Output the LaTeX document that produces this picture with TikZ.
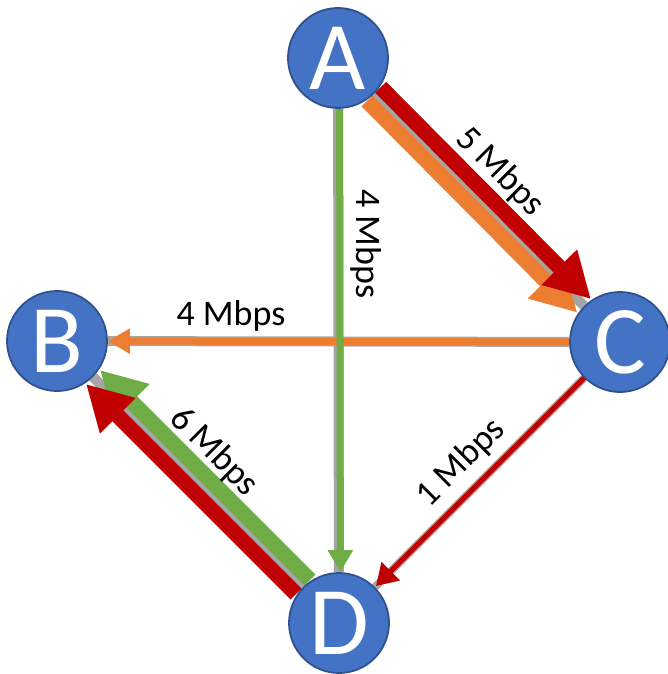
\documentclass[tikz,border=0pt]{standalone}
\usepackage{fontspec}
\setmainfont{Carlito}
\usetikzlibrary{arrows.meta}
\definecolor{nodeblue}{HTML}{4472C4}
\definecolor{nodeedge}{HTML}{2F528F}
\definecolor{linkgray}{HTML}{A5A5A5}
\definecolor{flowred}{HTML}{C00000}
\definecolor{floworange}{HTML}{ED7D31}
\definecolor{flowgreen}{HTML}{70AD47}
\pgfdeclarelayer{links}
\pgfsetlayers{links,main}

\begin{document}
\begin{tikzpicture}[x=1pt,y=-1pt,
  router/.style={circle, fill=nodeblue, draw=nodeedge, line width=1.8pt,
    minimum size=100pt, inner sep=0pt, text=white,
    font=\fontsize{97}{97}\selectfont},
  link/.style={draw=linkgray, line width=#1},
  thickflow/.style={draw=#1, line width=15.5pt,
    -{Triangle[width=47pt,length=45pt]}},
  thinflow/.style={draw=#1, line width=7pt,
    -{Triangle[width=24pt,length=22pt]}},
  rate/.style={font=\fontsize{36}{36}\selectfont, inner sep=0pt},
]
\useasboundingbox (0,0) rectangle (667,674);

% routers
\node[router] (A) at (338,58)  {A};
\node[router] (B) at (57,341)  {B};
\node[router] (C) at (620,342) {C};
\node[router] (D) at (339,623) {D};

% links and flows, kept beneath the routers
\begin{pgfonlayer}{links}
  % physical links
  \draw[link=10pt] (A) -- (D);
  \draw[link=10pt] (B) -- (C);
  \draw[link=10pt] (A) -- (C);
  \draw[link=10pt] (B) -- (D);
  \draw[link=8pt]  (C) -- (D);
  % orange flow A -> C -> B
  \draw[thickflow=floworange, transform canvas={shift={(-6.8,6.8)}}] (A) -- (C);
  \draw[thinflow=floworange] (C) -- (B);
  % green flow A -> D -> B
  \draw[thinflow=flowgreen, transform canvas={shift={(1.5,0)}}] (A) -- (D);
  \draw[thickflow=flowgreen, transform canvas={shift={(7,-7)}}] (D) -- (B);
  % red flow A -> C -> D -> B
  \draw[thickflow=flowred, transform canvas={shift={(6.8,-6.8)}}] (A) -- (C);
  \draw[draw=flowred, line width=5pt, -{Triangle[width=25pt,length=21pt]},
        transform canvas={shift={(1,-1)}}] (C) -- (D);
  \draw[thickflow=flowred, transform canvas={shift={(-7,7)}}] (D) -- (B);
\end{pgfonlayer}

% link rates
\node[rate, rotate=-45] (rAC) at (500,172) {5 Mbps};
\node[rate, rotate=-90] (rAD) at (366,244) {4 Mbps};
\node[rate]             (rBC) at (231,316) {4 Mbps};
\node[rate, rotate=-45] (rBD) at (214,452) {6 Mbps};
\node[rate, rotate=45]  (rCD) at (461,463) {1 Mbps};
\end{tikzpicture}
\end{document}
